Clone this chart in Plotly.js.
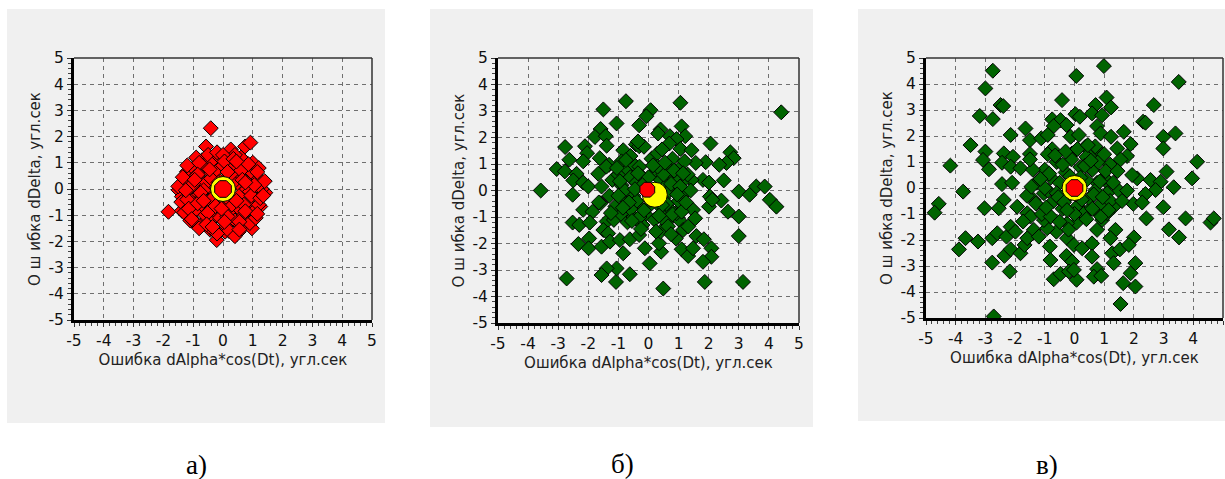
<!DOCTYPE html>
<html>
<head>
<meta charset="utf-8">
<script src="https://cdn.plot.ly/plotly-3.0.1.min.js"></script>
<style>html,body{margin:0;padding:0;background:#fff;}#chart{width:1225px;height:479px;}</style>
</head>
<body>
<div id="chart"></div>
<script>
// ---------- DATA ----------
const ticks = [-5,-4,-3,-2,-1,0,1,2,3,4,5];
const panelLabels = ["а)", "б)", "в)"];
const xTitle = "Ошибка dAlpha*cos(Dt), угл.сек";
const yTitle = "О ш ибка dDelta, угл.сек";

// Panel a (red points)
const aX = [-0.41,-0.57,0.26,0.74,0.92,-1.83,-0.21,0.07,0.53,0.97,1.42,1.25,1.08,0.74,-0.82,-1.21,-1.49,-1.38,-1.01,-0.55,-0.43,0.63,1.02,-1.38,1.19,
  -1.3,-1.2,-1.1,-1.0,-1.0,-0.9,-0.9,-0.8,-0.8,-0.7,-0.7,-0.7,-0.6,-0.6,-0.5,-0.5,-0.5,-0.4,-0.4,-0.3,-0.3,-0.3,-0.2,-0.2,-0.1,-0.1,0.0,0.0,0.1,0.1,0.2,0.2,0.3,0.3,0.4,0.4,0.5,0.5,0.6,0.6,0.7,0.7,0.8,0.8,0.9,0.9,1.0,1.0,1.1,1.1,1.2,1.2,1.3,
  -1.4,-1.3,-1.1,-0.9,-0.8,-0.4,0.2,0.6,0.9,1.1,-1.2,-0.9,-0.2,0.4,1.0,-1.5,1.4,-0.6,-0.1,0.2,-0.3,0.5,-0.7,0.3,-0.4,0.6,-0.8,0.9,-1.0,0.1,-0.5,0.7,-1.2,1.2,0.0,-0.2,0.4,
  -1.15,-0.95,-0.85,-0.65,-0.45,-0.35,-0.15,0.05,0.15,0.35,0.45,0.65,0.75,0.95,1.15,1.25,-1.05,-0.75,-0.25,0.25,0.55,0.85,1.05,-0.55,-0.05,0.35,-0.85,0.15,-1.35,1.35,-0.65,0.45,-0.35,0.75,-1.25,0.05,-0.15,1.15,-0.95,0.55];
const aY = [2.32,1.62,1.51,1.62,1.77,-0.87,-1.95,-1.63,-1.63,-1.5,-0.14,-0.67,0.79,1.04,0.98,0.66,-0.04,-0.83,-1.25,-1.18,-1.56,-1.25,-1.12,-0.29,0.15,
  0.3,-0.1,0.5,-0.4,0.8,0.1,-0.8,0.6,-0.2,1.1,-0.6,0.3,-1.0,0.9,0.0,-0.5,1.3,0.6,-1.2,0.2,-0.8,1.0,-0.3,0.7,-1.1,1.2,-0.6,0.9,-1.4,0.4,1.1,-0.9,0.6,-0.4,-1.2,0.9,0.2,-0.7,1.2,-0.2,0.5,-1.0,0.0,0.8,-0.5,0.3,-0.9,0.6,-0.3,0.1,0.4,-0.6,0.0,
  -0.5,-0.9,-1.2,-1.3,-1.5,-1.5,-1.6,-1.4,-1.3,-1.1,0.9,1.2,1.4,1.3,1.0,0.1,0.3,0.2,0.3,0.0,-0.1,0.5,-0.3,-0.6,0.4,0.7,1.0,-0.1,0.2,-0.3,-0.9,-0.6,-0.4,0.8,1.3,-1.7,-1.8,
  -0.75,0.45,-0.55,-0.05,0.75,-0.35,0.05,1.05,-1.05,0.25,-0.45,0.35,-0.85,-0.25,0.65,-0.35,-1.15,-0.15,-0.65,0.55,-1.25,0.95,0.15,-1.35,-0.75,1.15,0.55,0.65,0.45,-0.25,-0.45,1.05,-1.45,0.25,-0.05,-1.25,0.25,-0.95,0.35,-1.55];

// Panel b (green points)
const bX = [-3.58,4.41,-0.75,1.06,-1.5,0.07,-0.07,-1.06,-0.31,0.4,0.32,1.1,1.22,-1.59,-1.78,-1.42,-1.39,-2.77,-2.11,-2.04,-2.63,-2.17,-1.62,-1.31,-0.84,-0.42,-0.31,0.71,0.93,0.69,1.06,1.43,2.06,2.72,2.83,2.59,2.35,1.9,1.57,
  -3.05,-2.78,-2.39,-2.5,-2.17,-2.0,-2.52,-1.67,-1.56,2.5,3.0,3.36,3.58,3.86,4.03,4.25,2.42,2.64,3.0,3.0,2.04,2.01,2.12,1.81,2.01,1.43,1.48,
  -2.17,-1.86,-1.59,-2.52,-2.3,-1.95,-1.39,-1.15,-1.5,-1.34,-1.97,-2.33,-1.99,-1.56,-1.28,-0.95,-0.62,-0.31,-0.12,-0.84,0.04,0.42,0.35,0.4,0.54,1.02,1.15,0.91,1.1,1.32,1.48,1.59,1.84,2.09,2.09,1.81,1.87,3.14,0.49,-0.62,-1.08,-1.06,-1.39,-1.56,-2.72,1.32,0.93,
  -1.2,-1.0,-0.9,-0.8,-0.7,-0.6,-0.5,-0.5,-0.4,-0.3,-0.3,-0.2,-0.1,0.1,0.2,0.3,0.4,0.5,0.6,0.6,0.7,0.8,0.9,1.0,1.0,1.1,1.2,1.3,-1.3,-1.1,-0.9,-0.7,-0.5,-0.2,0.2,0.4,0.6,0.8,1.1,-1.4,-0.6,0.3,0.8,1.2,-0.9,0.0,-0.4,0.7,-0.8,0.5,-0.2,0.2,1.4,-1.0,0.9,0.3,-0.3,0.0,-0.6,0.6,
  -0.95,-0.65,-0.35,-0.15,0.15,0.45,0.75,1.05,-0.85,-0.45,0.05,0.55,0.95,-0.75,-0.25,0.35,0.85,1.25,-1.05,-0.55,0.25,0.65,-0.15,0.45,1.15,-1.25,-0.35,0.75,1.55,-1.65];
const bY = [0.0,2.95,3.37,3.31,3.06,3.03,2.8,2.53,2.46,2.3,2.15,2.42,2.05,2.32,2.02,2.05,1.69,1.64,1.67,1.41,1.16,1.1,1.22,0.97,1.52,1.74,1.67,2.05,1.94,1.77,1.57,1.52,1.77,1.44,1.22,1.04,0.97,1.07,1.04,
  0.81,0.72,0.63,0.38,0.3,0.15,-0.16,0.63,0.15,0.38,-0.04,-0.16,0.15,0.15,-0.35,-0.61,-0.38,-0.8,-0.98,-1.72,-0.23,-0.61,-0.35,0.4,0.3,0.4,-0.73,
  -0.73,-0.8,-0.48,-1.21,-1.3,-1.21,-1.17,-1.11,-1.49,-1.62,-1.81,-2.02,-2.18,-2.12,-1.93,-1.87,-1.84,-1.68,-2.18,-2.37,-2.75,-2.31,-1.99,-1.55,-0.76,-1.11,-1.49,-1.81,-2.22,-2.47,-2.18,-1.72,-1.84,-2.18,-2.5,-2.69,-3.45,-3.45,-3.7,-3.16,-3.45,-2.94,-2.94,-3.19,-3.32,-1.36,-0.86,
  0.4,0.6,0.2,-0.3,0.8,0.5,1.0,-0.2,0.3,-0.6,0.9,0.5,-0.9,1.2,0.7,-0.5,0.4,-0.3,0.9,0.2,-0.7,0.5,0.0,-0.4,0.8,0.3,-0.1,0.6,-0.2,-0.6,-0.9,-1.2,-1.0,-1.3,-1.1,-0.9,-1.2,-0.9,-0.8,0.9,1.3,1.4,1.2,1.1,1.1,0.5,-0.4,0.0,0.0,0.6,0.2,-0.3,0.0,-0.2,0.5,0.9,-1.0,-0.6,-0.7,-0.5,
  0.35,-0.45,0.65,-0.75,0.95,-0.55,0.25,0.15,-0.65,0.05,-0.35,1.05,-0.15,1.15,-1.45,-0.95,0.75,-0.45,0.85,-1.15,-1.55,-1.35,1.65,1.55,0.65,-0.85,1.85,-1.65,-1.05,-0.45];

// Panel c (green points)
const cX = [-2.75,0.99,0.06,3.51,-3.0,-0.42,-2.49,-2.4,1.08,1.23,2.67,-3.19,-2.75,0.03,0.18,0.71,0.59,0.93,2.31,2.39,-0.75,-0.47,-0.27,-0.7,-1.65,-2.15,-3.5,-1.5,-1.12,-0.9,-0.13,0.15,0.76,0.88,1.23,1.66,1.89,2.99,2.99,3.4,
  -4.18,-3.0,-3.08,-2.88,-2.38,-2.44,-2.07,-2.15,-1.82,-1.5,-0.75,-0.08,0.37,0.54,0.85,1.44,1.77,1.55,4.13,3.96,3.1,2.56,2.9,3.34,2.73,2.39,2.11,1.94,1.49,1.77,1.16,0.76,
  -3.75,-4.57,-4.71,-3.03,-2.44,-2.1,-2.38,-2.55,-1.93,-1.59,-1.37,-1.03,-1.26,1.98,2.28,2.99,2.42,3.74,3.18,3.52,4.58,4.69,
  -3.67,-3.89,-3.25,-2.77,-2.6,-2.29,-2.15,-1.99,-2.36,-2.15,-1.82,-1.68,-1.59,-2.77,-2.18,-2.72,-1.37,-1.2,-0.83,-0.81,-0.7,-0.47,-0.27,-0.08,-0.19,0.07,-0.02,-0.25,-0.02,0.26,0.59,0.59,0.76,0.65,0.9,1.27,1.32,1.53,1.64,1.55,2.05,1.89,2.05,2.0,1.83,1.38,1.21,0.76,0.93,0.76,0.54,0.07,-0.25,-0.61,-0.92,-1.03,-1.48,-1.73,1.32,1.1,
  -1.2,-1.0,-0.9,-0.8,-0.7,-0.6,-0.5,-0.4,-0.3,-0.2,-0.1,0.1,0.2,0.3,0.4,0.5,0.6,0.7,0.8,0.9,1.0,1.1,1.2,-1.3,-1.1,-0.8,-0.5,0.0,0.4,0.9,1.2,-1.4,-0.9,-0.3,0.4,1.0,-0.6,0.2,0.6,-1.0,1.3,-0.4,0.1,-1.6,1.6,-0.2,0.7,-1.5,
  -0.85,-0.55,-0.15,0.35,0.65,1.05,-1.15,-0.35,0.25,0.85,-0.65,0.05,0.55,1.45,-1.45,-0.95,0.45,1.15,-0.25,0.95];
const cY = [4.51,4.69,4.31,4.08,3.83,3.38,3.19,3.15,3.48,3.1,3.19,2.77,2.65,2.84,2.74,3.19,2.87,2.8,2.55,2.51,2.64,2.61,2.42,2.38,2.29,2.04,1.65,1.84,1.91,2.04,1.97,2.04,2.38,2.1,1.97,2.16,1.69,1.97,1.52,2.1,
  0.86,1.4,1.08,0.72,1.33,0.97,1.2,0.82,0.76,1.31,1.49,1.33,1.59,1.2,1.4,1.52,1.23,1.1,1.01,0.37,0.63,0.31,0.24,0.03,-0.08,-0.23,0.37,0.5,-0.1,-0.1,0.15,0.2,
  -0.14,-0.61,-0.95,-0.78,0.15,0.2,-0.46,-0.78,-0.72,-0.97,-0.46,-0.2,0.2,-0.61,-0.56,-0.74,-1.17,-1.17,-1.59,-1.9,-1.33,-1.17,
  -1.93,-2.36,-2.06,-1.93,-1.74,-1.87,-1.49,-1.68,-2.61,-2.36,-2.51,-2.19,-1.93,-2.87,-3.21,-4.94,-1.61,-1.87,-2.25,-2.77,-3.51,-3.3,-2.61,-2.83,-3.21,-3.53,-3.15,-1.93,-2.19,-2.32,-2.13,-2.64,-3.12,-3.41,-3.38,-2.51,-2.89,-2.36,-3.66,-4.46,-3.79,-3.28,-2.89,-1.9,-2.19,-1.61,-1.93,-1.61,-1.23,-0.91,-0.78,-1.33,-1.36,-1.68,-1.55,-1.23,-1.1,-1.29,-0.72,-0.97,
  0.3,0.7,-0.1,0.4,-0.5,1.0,0.2,-0.8,0.6,-0.3,1.1,-0.7,0.8,-1.0,0.3,-0.4,0.7,-0.1,1.0,-0.6,0.4,-0.2,0.9,-0.6,-1.0,-1.1,-1.3,-1.0,-1.2,-1.1,-0.5,0.7,1.3,1.4,1.2,1.3,-0.2,0.4,-0.8,0.0,0.2,0.9,1.5,-0.3,-0.5,-1.6,1.6,1.1,
  0.55,-0.35,0.45,0.85,-0.25,0.65,0.35,-0.55,-0.45,0.25,1.25,-0.25,1.05,0.65,0.05,-0.75,1.65,-0.85,-0.85,-0.35];

// Mean markers (yellow) and reference centre (red)
const yellowX = [0.0, 0.21, 0.0];
const yellowY = [0.0, -0.16, 0.0];
const redX = [0.0, -0.04, 0.0];
const redY = [0.0, 0.03, 0.0];

// ---------- LAYOUT ----------
const W = 1225, H = 479;
const px = v => v / W, py = v => 1 - v / H;
const panels = [
  {plot:[74,372,58,320], bg:[7,385,9,423], label:[196,465], color:'#ff0000', xs:aX, ys:aY, redSize:18},
  {plot:[498,799,58,323], bg:[430,813,9,427], label:[622,464], color:'#006400', xs:bX, ys:bY, redSize:16},
  {plot:[926,1223,58,318], bg:[858,1225,9,421], label:[1047,465], color:'#006400', xs:cX, ys:cY, redSize:18}
];

const tickFont = {family:'"DejaVu Sans", Verdana, sans-serif', size:15.5, color:'#111'};
const titleFont = {family:'"DejaVu Sans", Verdana, sans-serif', size:15, color:'#222'};

const traces = [];
const layout = {
  width: W, height: H,
  margin: {l:0, r:0, t:0, b:0},
  paper_bgcolor: '#ffffff',
  plot_bgcolor: '#f0f0f0',
  showlegend: false,
  shapes: [], annotations: []
};

panels.forEach((p, i) => {
  const n = i === 0 ? '' : String(i + 1);
  const xa = 'x' + n, ya = 'y' + n;
  const axisCommon = {
    range: [-5, 5], tickvals: ticks, ticktext: ticks.map(String),
    showline: true, linewidth: 3, linecolor: '#000',
    ticks: 'outside', ticklen: 4, tickwidth: 1, tickcolor: '#333',
    minor: {dtick: 0.2, tick0: 0, ticks: 'outside', ticklen: 3, tickwidth: 1, tickcolor: '#444', showgrid: false},
    showgrid: true, gridcolor: '#6f6f6f', gridwidth: 1, griddash: '4px,4px',
    zeroline: false, tickfont: tickFont, fixedrange: true, automargin: false
  };
  layout['xaxis' + n] = Object.assign({}, axisCommon, {
    domain: [px(p.plot[0]), px(p.plot[1])], anchor: ya,
    title: {text: xTitle, font: titleFont, standoff: 6}
  });
  layout['yaxis' + n] = Object.assign({}, axisCommon, {
    domain: [py(p.plot[3]), py(p.plot[2])], anchor: xa,
    title: {text: yTitle, font: titleFont, standoff: 5}
  });
  // grey panel background
  layout.shapes.push({type:'rect', xref:'paper', yref:'paper', layer:'below',
    x0: px(p.bg[0]), x1: px(p.bg[1]), y0: py(p.bg[3]), y1: py(p.bg[2]),
    fillcolor:'#f0f0f0', line:{width:0}});
  // thin top and right frame
  layout.shapes.push({type:'line', xref: xa + ' domain', yref: ya + ' domain', x0:0, x1:1, y0:1, y1:1, line:{color:'#333', width:1.5}});
  layout.shapes.push({type:'line', xref: xa + ' domain', yref: ya + ' domain', x0:1, x1:1, y0:0, y1:1, line:{color:'#333', width:1.5}});
  // panel label
  layout.annotations.push({xref:'paper', yref:'paper', x: px(p.label[0]), y: py(p.label[1]),
    text: panelLabels[i], showarrow:false, xanchor:'center', yanchor:'middle',
    font:{family:'"Liberation Serif", "Times New Roman", serif', size:27, color:'#000'}});

  traces.push({type:'scatter', mode:'markers', x:p.xs, y:p.ys, xaxis:xa, yaxis:ya,
    marker:{symbol:'diamond', size:11.5, color:p.color, line:{color:'#000', width:1}}, hoverinfo:'skip'});
  traces.push({type:'scatter', mode:'markers', x:[yellowX[i]], y:[yellowY[i]], xaxis:xa, yaxis:ya,
    marker:{symbol:'circle', size:25, color: '#ffff00', line:{color:'#000', width:1}}, hoverinfo:'skip'});
  traces.push({type:'scatter', mode:'markers', x:[redX[i]], y:[redY[i]], xaxis:xa, yaxis:ya,
    marker:{symbol:'octagon', size:p.redSize, color:'#ff0000', line:{color:'#000', width:1}}, hoverinfo:'skip'});
});

Plotly.newPlot('chart', traces, layout, {staticPlot:true, displayModeBar:false});
</script>
</body>
</html>
